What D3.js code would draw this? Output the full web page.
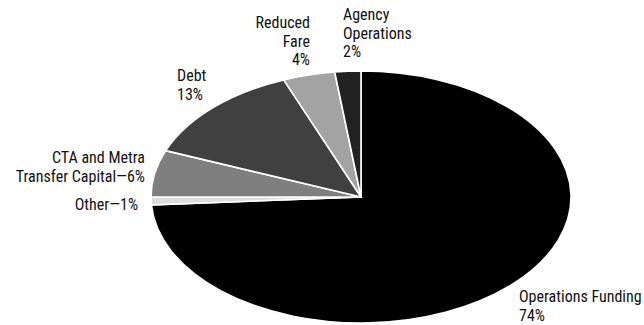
<!DOCTYPE html>
<html>
<head>
<meta charset="utf-8">
<script src="https://cdn.jsdelivr.net/npm/d3@7/dist/d3.min.js"></script>
<style>
  html, body { margin: 0; padding: 0; background: #fff; }
  svg text { font-family: "Liberation Sans Narrow", "Arial Narrow", "Roboto Condensed", sans-serif; font-size: 16px; fill: #111; }
</style>
</head>
<body>
<svg id="chart" width="644" height="325"></svg>
<script>
// Slices, clockwise from 12 o'clock
const categories = ["Operations Funding", "Other", "CTA and Metra Transfer Capital", "Debt", "Reduced Fare", "Agency Operations"];
const shares = [74, 1, 6, 13, 4, 2];
const fills = ["#000000", "#dcdcdc", "#7f7f7f", "#404040", "#a3a3a3", "#222222"];

// Label lines per slice
const labelLines = [
  ["Operations Funding", "74%"],
  ["Other\u20141%"],
  ["CTA and Metra", "Transfer Capital\u20146%"],
  ["Debt", "13%"],
  ["Reduced", "Fare", "4%"],
  ["Agency", "Operations", "2%"]
];

const svg = d3.select("#chart");
const cx = 361, cy = 197, rx = 210, ry = 126;

const data = categories.map((c, i) => ({ name: c, value: shares[i], fill: fills[i], lines: labelLines[i] }));
const pie = d3.pie().value(d => d.value).sort(null);
const arcs = pie(data);
const arc = d3.arc().innerRadius(0).outerRadius(rx);

// Circle pie squashed into an ellipse
const g = svg.append("g").attr("transform", `translate(${cx},${cy}) scale(1,${ry / rx})`);
g.selectAll("path").data(arcs).join("path")
  .attr("d", arc)
  .attr("fill", d => d.data.fill)
  .attr("stroke", "#fff")
  .attr("stroke-width", 1.6)
  .attr("vector-effect", "non-scaling-stroke");

// Label anchors: [x, first baseline, text-anchor, line height]
const labelPos = {
  "Operations Funding": [519, 302, "start", 18.5],
  "Other": [138, 210, "end", 18.5],
  "CTA and Metra Transfer Capital": [145, 163, "end", 18.5],
  "Debt": [177, 81, "start", 18.5],
  "Reduced Fare": [310, 28, "end", 18.5],
  "Agency Operations": [343, 20, "start", 18.5]
};

const labels = svg.append("g").selectAll("text").data(data).join("text")
  .attr("x", d => labelPos[d.name][0])
  .attr("y", d => labelPos[d.name][1])
  .attr("text-anchor", d => labelPos[d.name][2]);
labels.selectAll("tspan")
  .data(d => d.lines.map(l => ({ l, x: labelPos[d.name][0], lh: labelPos[d.name][3] })))
  .join("tspan")
  .attr("x", t => t.x)
  .attr("dy", (t, i) => i === 0 ? 0 : t.lh)
  .text(t => t.l);
</script>
</body>
</html>
